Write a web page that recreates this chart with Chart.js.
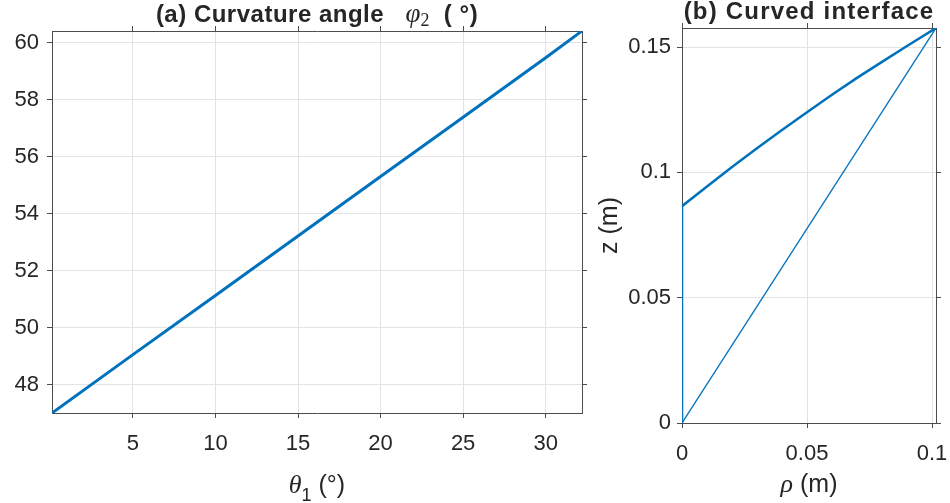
<!DOCTYPE html>
<html>
<head>
<meta charset="utf-8">
<script src="https://cdn.jsdelivr.net/npm/chart.js@4"></script>
<style>
  body { margin: 0; background: #fff; overflow: hidden; }
  canvas { position: absolute; top: 0; }
</style>
</head>
<body>
<canvas id="angleChart" width="600" height="503" style="left:0"></canvas>
<canvas id="interfaceChart" width="430" height="503" style="left:560px"></canvas>
<script>
// (a) curvature angle phi2 against theta1, both in degrees
const thetaDeg = [0.1, 5, 10, 15, 20, 25, 30, 32.2]
const phiDeg = [47.00, 49.05, 51.13, 53.22, 55.31, 57.39, 59.48, 60.42]
const angleTicksX = [5, 10, 15, 20, 25, 30]
const angleTicksY = [48, 50, 52, 54, 56, 58, 60]

// (b) curved interface profile, rho and z in metres
const rhoArc = [0, 0.01, 0.02, 0.03, 0.04, 0.05, 0.06, 0.07, 0.08, 0.09, 0.1016]
const zArc = [0.0865, 0.0944, 0.1021, 0.1096, 0.1169, 0.1240, 0.1310, 0.1377, 0.1441, 0.1504, 0.1576]
const interfaceTicksX = [0, 0.05, 0.1]
const interfaceTicksY = [0, 0.05, 0.1, 0.15]

const BLUE = '#0072BD'
const TEXT = '#262626'
const AXIS = '#4d4d4d'
const GRID = '#e3e3e3'
const SANS = '"Liberation Sans", Arial, sans-serif'
const SERIF = '"Liberation Serif", "Times New Roman", serif'

// draws a row of differently styled text runs, centred on (x, y)
function drawRuns(ctx, runs, x, y, angle) {
  ctx.save()
  ctx.translate(x, y)
  ctx.rotate(angle || 0)
  ctx.textAlign = 'left'
  ctx.textBaseline = 'alphabetic'
  ctx.fillStyle = TEXT
  let total = 0
  runs.forEach(r => {
    ctx.font = r.font
    ctx.letterSpacing = r.spacing || '0px'
    r.w = ctx.measureText(r.text).width
    total += r.w
  })
  let cx = -total / 2
  runs.forEach(r => {
    ctx.font = r.font
    ctx.letterSpacing = r.spacing || '0px'
    ctx.fillText(r.text, cx, r.dy || 0)
    cx += r.w
  })
  ctx.restore()
}

const richText = {
  id: 'richText',
  afterDraw(chart, args, opts) {
    const area = chart.chartArea
    const midX = (area.left + area.right) / 2
    const midY = (area.top + area.bottom) / 2
    opts.items.forEach(item => {
      const x = item.x === undefined ? midX : item.x
      const y = item.y === undefined ? midY : item.y
      drawRuns(chart.ctx, item.runs, x, y, item.angle)
    })
  }
}

function fixSize(px) {
  return scale => {
    if (scale.isHorizontal()) scale.height = px
    else scale.width = px
  }
}

function useTicks(values) {
  return scale => { scale.ticks = values.map(v => ({ value: v })) }
}

// one axis of the box; main axes get labels and grid, the mirrored ones only tick marks
function axis(position, min, max, ticks, size, main, pad) {
  return {
    type: 'linear',
    position: position,
    min: min,
    max: max,
    afterBuildTicks: useTicks(ticks),
    afterFit: fixSize(size),
    grid: {
      drawOnChartArea: main,
      color: GRID,
      tickColor: AXIS,
      tickLength: 5,
      lineWidth: 1
    },
    border: { color: AXIS, width: 1 },
    ticks: {
      display: main,
      color: TEXT,
      padding: pad,
      maxRotation: 0,
      autoSkip: false,
      font: { family: SANS, size: 22 },
      callback: v => String(v)
    }
  }
}

new Chart(document.getElementById('angleChart'), {
  type: 'line',
  data: {
    datasets: [{
      data: thetaDeg.map((t, i) => ({ x: t, y: phiDeg[i] })),
      borderColor: BLUE,
      borderWidth: 3,
      pointRadius: 0,
      tension: 0
    }]
  },
  options: {
    responsive: false,
    animation: false,
    layout: { padding: 0 },
    plugins: {
      legend: { display: false },
      tooltip: { enabled: false },
      richText: {
        items: [
          { y: 22, runs: [
            { text: '(a) Curvature angle   ', font: 'bold 24px ' + SANS, spacing: '0.5px' },
            { text: 'φ', font: 'italic 27px ' + SERIF },
            { text: '2', font: '18px ' + SERIF, dy: 4 },
            { text: '  ( °)', font: 'bold 24px ' + SANS, spacing: '0.5px' }
          ] },
          { y: 493, runs: [
            { text: 'θ', font: 'italic 26px ' + SERIF },
            { text: '1', font: '18px ' + SANS, dy: 8 },
            { text: ' (°)', font: '25px ' + SANS }
          ] }
        ]
      }
    },
    scales: {
      x: axis('bottom', 0.1, 32.2, angleTicksX, 90, true, 13),
      x2: axis('top', 0.1, 32.2, angleTicksX, 31, false, 0),
      y: axis('left', 47, 60.42, angleTicksY, 52, true, 8),
      y2: axis('right', 47, 60.42, angleTicksY, 18, false, 0)
    }
  },
  plugins: [richText]
})

const last = rhoArc.length - 1
new Chart(document.getElementById('interfaceChart'), {
  type: 'line',
  data: {
    datasets: [
      {
        // curved free surface
        data: rhoArc.map((r, i) => ({ x: r, y: zArc[i] })),
        borderColor: BLUE, borderWidth: 2.5, pointRadius: 0
      },
      {
        // axis wall up to the start of the curve
        data: [{ x: rhoArc[0], y: 0 }, { x: rhoArc[0], y: zArc[0] }],
        borderColor: BLUE, borderWidth: 2.5, pointRadius: 0
      },
      {
        // straight chord from origin to the rim
        data: [{ x: 0, y: 0 }, { x: rhoArc[last], y: zArc[last] }],
        borderColor: BLUE, borderWidth: 1.3, pointRadius: 0
      }
    ]
  },
  options: {
    responsive: false,
    animation: false,
    layout: { padding: 0 },
    plugins: {
      legend: { display: false },
      tooltip: { enabled: false },
      richText: {
        items: [
          { y: 19, runs: [
            { text: '(b) Curved interface', font: 'bold 24px ' + SANS, spacing: '1.2px' }
          ] },
          { y: 492, runs: [
            { text: 'ρ', font: 'italic 26px ' + SERIF },
            { text: ' (m)', font: '25px ' + SANS }
          ] },
          { x: 57, angle: -Math.PI / 2, runs: [
            { text: 'z (m)', font: '25px ' + SANS }
          ] }
        ]
      }
    },
    scales: {
      x: axis('bottom', 0, 0.1016, interfaceTicksX, 80, true, 13),
      x2: axis('top', 0, 0.1016, interfaceTicksX, 28, false, 0),
      y: axis('left', 0, 0.1576, interfaceTicksY, 122, true, 6),
      y2: axis('right', 0, 0.1576, interfaceTicksY, 54, false, 0)
    }
  },
  plugins: [richText]
})
</script>
</body>
</html>
